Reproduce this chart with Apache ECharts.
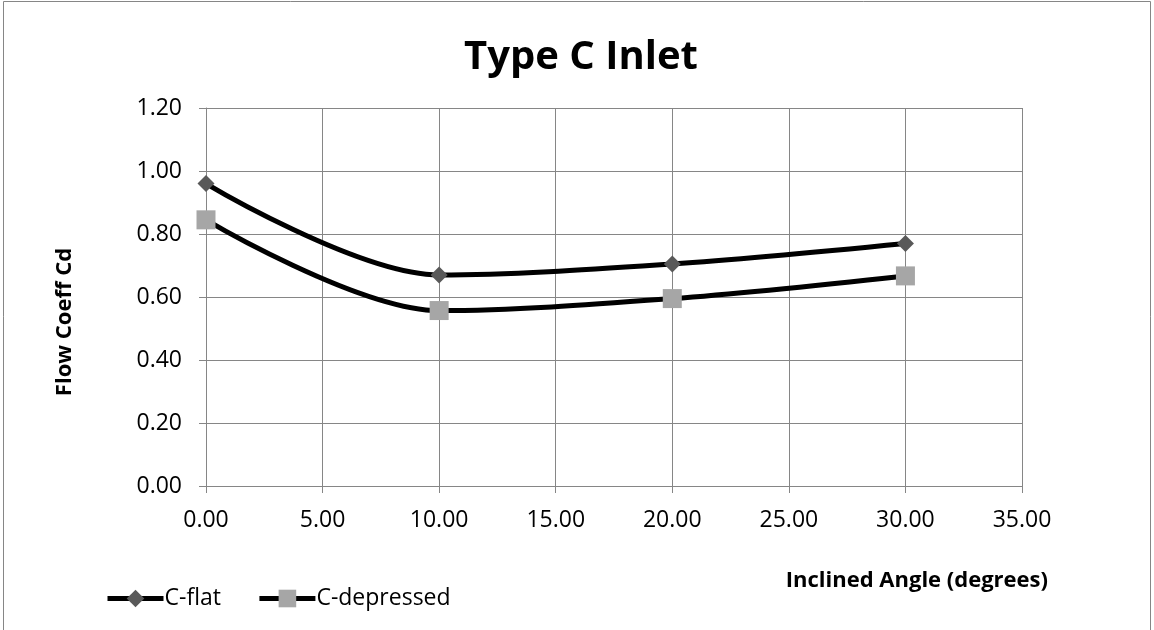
<!DOCTYPE html>
<html>
<head>
<meta charset="utf-8">
<script src="https://cdn.jsdelivr.net/npm/echarts@6/dist/echarts.min.js"></script>
<style>
  html, body { margin: 0; padding: 0; background: #fff; }
  #chart { width: 1154px; height: 630px; }
</style>
</head>
<body>
<div id="chart"></div>
<script>
// Inclined angle (degrees) vs. flow coefficient Cd
const angles = [0, 10, 20, 30];
const cFlat = [0.96, 0.67, 0.705, 0.77];
const cDepressed = [0.845, 0.557, 0.595, 0.667];
const seriesNames = ['C-flat', 'C-depressed'];

const FONT = '"Open Sans", "Liberation Sans", sans-serif';
const GRID_GREY = '#868686';
const chart = echarts.init(document.getElementById('chart'));

const toPairs = (xs, ys) => xs.map((x, i) => [x, ys[i]]);

chart.setOption({
  animation: false,
  backgroundColor: '#fff',
  title: {
    text: 'Type C Inlet',
    left: 576, top: 33, textAlign: 'center',
    textStyle: { fontFamily: FONT, fontSize: 40, fontWeight: 'bold', color: '#000' }
  },
  grid: { left: 206, right: 132, top: 108, bottom: 144 },
  xAxis: {
    type: 'value', min: 0, max: 35, interval: 5,
    axisLine: { show: true, lineStyle: { color: GRID_GREY, width: 1 } },
    axisTick: { show: true, length: 7, lineStyle: { color: GRID_GREY, width: 1 } },
    axisLabel: {
      margin: 23, fontFamily: FONT, fontSize: 23, color: '#000',
      formatter: v => v.toFixed(2)
    },
    splitLine: { show: true, lineStyle: { color: GRID_GREY, width: 1 } },
    name: 'Inclined Angle (degrees)',
    nameLocation: 'end',
    nameGap: 26,
    nameTextStyle: {
      fontFamily: FONT, fontSize: 22, fontWeight: 'bold', color: '#000',
      align: 'right', verticalAlign: 'top', padding: [84, 0, 0, 0]
    }
  },
  yAxis: {
    type: 'value', min: 0, max: 1.2, interval: 0.2,
    axisLine: { show: true, lineStyle: { color: GRID_GREY, width: 1 } },
    axisTick: { show: true, length: 7, lineStyle: { color: GRID_GREY, width: 1 } },
    axisLabel: {
      margin: 24, fontFamily: FONT, fontSize: 23, color: '#000',
      formatter: v => v.toFixed(2)
    },
    splitLine: { show: true, lineStyle: { color: GRID_GREY, width: 1 } },
    name: 'Flow Coeff Cd',
    nameLocation: 'middle',
    nameGap: 130,
    nameRotate: 90,
    nameTextStyle: {
      fontFamily: FONT, fontSize: 22, fontWeight: 'bold', color: '#000',
      padding: [0, 50, 0, 0]
    }
  },
  legend: {
    left: 105, top: 587, padding: 0,
    itemWidth: 56, itemHeight: 22, itemGap: 36,
    lineStyle: { width: 5, color: '#000' },
    textStyle: { fontFamily: FONT, fontSize: 23, color: '#000', padding: [0, 0, 0, -4] },
    data: seriesNames
  },
  series: [
    {
      name: seriesNames[0], type: 'line', smooth: 0.33,
      data: toPairs(angles, cFlat),
      symbol: 'diamond', symbolSize: 17,
      lineStyle: { color: '#000', width: 5 },
      itemStyle: { color: '#595959' },
      z: 3
    },
    {
      name: seriesNames[1], type: 'line', smooth: 0.33,
      data: toPairs(angles, cDepressed),
      symbol: 'rect', symbolSize: 19,
      lineStyle: { color: '#000', width: 5 },
      itemStyle: { color: '#a6a6a6' },
      z: 2
    }
  ],
  graphic: [{
    type: 'rect', silent: true, z: -1,
    shape: { x: 3.5, y: 1.5, width: 1147, height: 640 },
    style: { fill: null, stroke: GRID_GREY, lineWidth: 1 }
  }]
});
</script>
</body>
</html>
